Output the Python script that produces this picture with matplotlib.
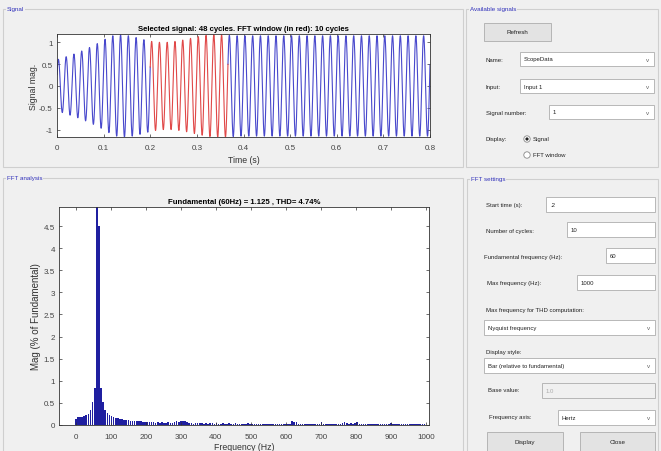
import numpy as np
import matplotlib
matplotlib.use("Agg")
import matplotlib.pyplot as plt
from matplotlib.patches import Rectangle, Circle

plt.rcParams['font.family'] = ['Liberation Sans', 'DejaVu Sans']

# ---------------- data ----------------
f0 = 60.0
window_start = 0.2
window_cycles = 10
# peak amplitude of each cycle of the signal
cycle_amp = [0.61, 0.67, 0.73, 0.80, 0.88, 0.97, 1.07, 1.15, 1.17, 1.15,
             1.11, 1.06, 1.02, 1.00, 1.00, 1.02, 1.05, 1.09, 1.13, 1.16,
             1.17, 1.17, 1.16, 1.15, 1.15, 1.15, 1.15, 1.15, 1.15, 1.15,
             1.15, 1.15, 1.15, 1.15, 1.15, 1.15, 1.15, 1.15, 1.15, 1.15,
             1.15, 1.15, 1.15, 1.15, 1.15, 1.15, 1.15, 1.15, 1.15]
phase0 = 0.44

# FFT bars, 6 Hz resolution, % of fundamental
bar_freq_step = 6
bar_mag = [0.13, 0.18, 0.17, 0.19, 0.21, 0.22, 0.26, 0.33, 0.52, 0.83,
           100.0, 4.50, 0.83, 0.53, 0.35, 0.28, 0.23, 0.20, 0.18, 0.16,
           0.15, 0.14, 0.13, 0.12, 0.12, 0.11, 0.10, 0.10, 0.09, 0.09,
           0.08, 0.08, 0.07, 0.07, 0.06, 0.07, 0.06, 0.06, 0.05, 0.06,
           0.05, 0.06, 0.05, 0.05, 0.06, 0.05, 0.05, 0.06, 0.10, 0.07,
           0.10, 0.09, 0.09, 0.07, 0.05, 0.04, 0.03, 0.04, 0.04, 0.04,
           0.04, 0.03, 0.04, 0.03, 0.04, 0.04, 0.03, 0.04, 0.03, 0.03,
           0.04, 0.03, 0.03, 0.04, 0.03, 0.03, 0.04, 0.03, 0.03, 0.03,
           0.03, 0.03, 0.04, 0.03, 0.03, 0.03, 0.03, 0.03, 0.03, 0.03,
           0.03, 0.03, 0.03, 0.03, 0.03, 0.03, 0.03, 0.03, 0.03, 0.03,
           0.03, 0.03, 0.03, 0.08, 0.06, 0.06, 0.02, 0.02, 0.02, 0.02,
           0.02, 0.02, 0.02, 0.02, 0.02, 0.02, 0.02, 0.06, 0.03, 0.02,
           0.03, 0.03, 0.02, 0.03, 0.03, 0.03, 0.03, 0.04, 0.07, 0.04,
           0.03, 0.04, 0.03, 0.05, 0.06, 0.03, 0.02, 0.02, 0.02, 0.03,
           0.02, 0.02, 0.03, 0.02, 0.03, 0.02, 0.03, 0.02, 0.02, 0.03,
           0.05, 0.03, 0.03, 0.03, 0.02, 0.03, 0.03, 0.02, 0.03, 0.02,
           0.03, 0.02, 0.02, 0.03, 0.02, 0.02, 0.02]
bar_freq = np.arange(len(bar_mag)) * bar_freq_step

sig_xticks = [0, 0.1, 0.2, 0.3, 0.4, 0.5, 0.6, 0.7, 0.8]
sig_yticks = [-1, -0.5, 0, 0.5, 1]
fft_xticks = [0, 100, 200, 300, 400, 500, 600, 700, 800, 900, 1000]
fft_yticks = [0, 0.5, 1, 1.5, 2, 2.5, 3, 3.5, 4, 4.5]

# ---------------- figure ----------------
W, H = 661, 452
fig = plt.figure(figsize=(W / 100, H / 100), dpi=100, facecolor='#f0f0f0')

ov = fig.add_axes([0, 0, 1, 1], zorder=0)
ov.set_xlim(0, W)
ov.set_ylim(H, 0)
ov.axis('off')

panel_col = '#3333bb'
lab_col = '#222222'

def panel(x0, y0, x1, y1, title):
    ov.add_patch(Rectangle((x0, y0), x1 - x0, y1 - y0, fill=False,
                           edgecolor='#cfcfcf', lw=0.8))
    ov.text(x0 + 4, y0, title, fontsize=4.5, color=panel_col, va='center',
            ha='left', bbox=dict(fc='#f0f0f0', ec='none', pad=0.6))

panel(3, 10, 463, 168, 'Signal')
panel(466, 10, 658, 168, 'Available signals')
panel(3, 179, 463, 460, 'FFT analysis')
panel(467, 180, 658, 460, 'FFT settings')

def label(x, y, s, **kw):
    ov.text(x, y, s, fontsize=4.3, color=lab_col, va='center', ha='left', **kw)

def box(x0, y0, x1, y1, s='', arrow=False, fc='white', tc='#222222'):
    ov.add_patch(Rectangle((x0, y0), x1 - x0, y1 - y0, fc=fc,
                           ec='#adadad', lw=0.6))
    if s:
        ov.text(x0 + 4, (y0 + y1) / 2, s, fontsize=4.3, color=tc,
                va='center', ha='left')
    if arrow:
        ov.text(x1 - 6, (y0 + y1) / 2 + 0.5, 'v', fontsize=4.5,
                color='#666666', va='center', ha='center')

def button(x0, y0, x1, y1, s):
    ov.add_patch(Rectangle((x0, y0), x1 - x0, y1 - y0, fc='#e3e3e3',
                           ec='#adadad', lw=0.6))
    ov.text((x0 + x1) / 2, (y0 + y1) / 2, s, fontsize=4.5, color=lab_col,
            va='center', ha='center')

# Available signals
button(484, 24, 551, 42, 'Refresh')
label(486, 60, 'Name:')
box(520, 53, 654, 67, 'ScopeData', arrow=True)
label(486, 87, 'Input:')
box(520, 80, 654, 94, 'Input 1', arrow=True)
label(486, 113, 'Signal number:')
box(549, 106, 654, 120, '1', arrow=True)
label(486, 140, 'Display:')
ov.add_patch(Circle((527, 140), 3.2, fc='white', ec='#888888', lw=0.6))
ov.add_patch(Circle((527, 140), 1.6, fc='#222222', ec='none'))
label(533, 140, 'Signal')
ov.add_patch(Circle((527, 156), 3.2, fc='white', ec='#888888', lw=0.6))
label(533, 156, 'FFT window')

# FFT settings
label(486, 206, 'Start time (s):')
box(546, 198, 655, 213, '.2')
label(486, 232, 'Number of cycles:')
box(567, 223, 655, 238, '10')
label(484, 258, 'Fundamental frequency (Hz):')
box(606, 249, 655, 264, '60')
label(487, 284, 'Max frequency (Hz):')
box(577, 276, 655, 291, '1000')
label(486, 311, 'Max frequency for THD computation:')
box(484, 321, 655, 336, 'Nyquist frequency', arrow=True)
label(486, 353, 'Display style:')
box(484, 359, 655, 374, 'Bar (relative to fundamental)', arrow=True)
label(488, 391, 'Base value:')
box(542, 384, 655, 399, '1.0', fc='#f0f0f0', tc='#aaaaaa')
label(489, 418, 'Frequency axis:')
box(558, 411, 655, 426, 'Hertz', arrow=True)
button(487, 433, 563, 452, 'Display')
button(580, 433, 655, 452, 'Close')

# ---------------- axes styling ----------------
def style(ax, pad):
    ax.tick_params(direction='in', length=2.5, width=0.5, labelsize=5.8,
                   top=True, right=True, labelcolor='#444444',
                   color='#333333')
    ax.tick_params(axis='x', pad=pad)
    ax.tick_params(axis='y', pad=3)
    for sp in ax.spines.values():
        sp.set_linewidth(0.6)
        sp.set_color('#333333')

# ---------------- signal axes ----------------
ax1 = fig.add_axes([57 / W, 1 - 138 / H, 373 / W, 103 / H], zorder=2)
t = np.linspace(0, 0.8, 24001)
cyc = np.floor(f0 * t + phase0 / (2 * np.pi)).astype(int)
amp = np.asarray(cycle_amp)[np.clip(cyc, 0, len(cycle_amp) - 1)]
y = amp * np.sin(2 * np.pi * f0 * t + phase0)
t_end = window_start + window_cycles / f0
m1 = t <= window_start
m2 = (t >= window_start) & (t <= t_end)
m3 = t >= t_end
ax1.plot(t[m1], y[m1], color='#4848cc', lw=0.8)
ax1.plot(t[m3], y[m3], color='#4848cc', lw=0.8)
ax1.plot(t[m2], y[m2], color='#e04848', lw=0.8)
ax1.set_xlim(0, 0.8)
ax1.set_ylim(-1.17, 1.19)
ax1.set_xticks(sig_xticks)
ax1.set_xticklabels([f'{v:g}' for v in sig_xticks])
ax1.set_yticks(sig_yticks)
ax1.set_yticklabels([f'{v:g}' for v in sig_yticks])
style(ax1, 5)
ax1.set_title('Selected signal: 48 cycles. FFT window (in red): 10 cycles',
              fontsize=5.6, fontweight='bold', pad=3)
ax1.set_xlabel('Time (s)', fontsize=6.3, labelpad=3, color='#333333')
ax1.set_ylabel('Signal mag.', fontsize=6.3, labelpad=1, color='#333333')

# ---------------- FFT axes ----------------
ax2 = fig.add_axes([59 / W, 1 - 426 / H, 370 / W, 218 / H], zorder=2)
ax2.bar(bar_freq, bar_mag, width=4.6, color='#1f1fa0', edgecolor='none')
ax2.set_xlim(-48, 1009)
ax2.set_ylim(0, 4.93)
ax2.set_xticks(fft_xticks)
ax2.set_yticks(fft_yticks)
ax2.set_yticklabels([f'{v:g}' for v in fft_yticks])
style(ax2, 6)
ax2.set_title('Fundamental (60Hz) = 1.125 , THD= 4.74%', fontsize=5.6,
              fontweight='bold', pad=3)
ax2.set_xlabel('Frequency (Hz)', fontsize=6.3, labelpad=1, color='#333333')
ax2.set_ylabel('Mag (% of Fundamental)', fontsize=7, labelpad=2,
               color='#333333')

fig.savefig('out.png', dpi=100, facecolor=fig.get_facecolor())
